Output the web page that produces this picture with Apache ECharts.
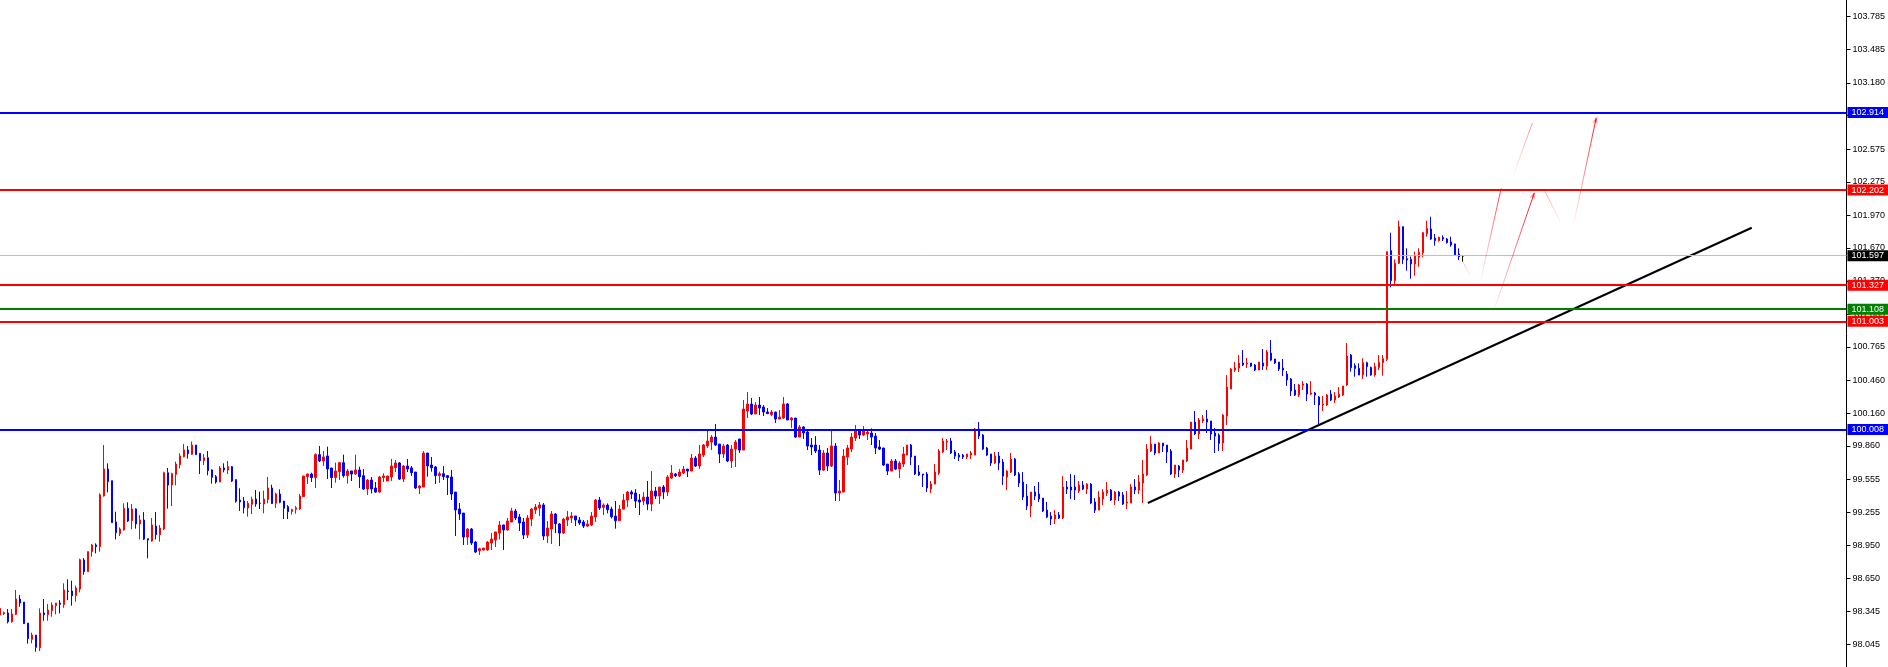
<!DOCTYPE html>
<html>
<head>
<meta charset="utf-8">
<script src="https://cdn.jsdelivr.net/npm/echarts@6/dist/echarts.min.js"></script>
<style>
html,body{margin:0;padding:0;background:#fff;}
#chart{width:1888px;height:667px;}
</style>
</head>
<body>
<div id="chart"></div>
<script>
// ---------------- data ----------------
const openPrices = [
98.313,98.325,98.332,98.252,98.319,98.460,98.432,98.240,98.091,98.130,
98.014,98.332,98.316,98.353,98.399,98.423,98.408,98.533,98.533,98.490,
98.551,98.816,98.710,98.893,98.954,98.938,99.402,99.649,99.542,99.164,
99.057,99.091,99.289,99.176,99.283,99.146,99.182,99.011,98.990,99.127,
99.048,99.100,99.615,99.502,99.600,99.688,99.762,99.823,99.783,99.868,
99.792,99.725,99.752,99.640,99.579,99.530,99.658,99.640,99.670,99.551,
99.365,99.356,99.292,99.326,99.374,99.335,99.329,99.371,99.475,99.335,
99.420,99.356,99.304,99.261,99.280,99.283,99.396,99.579,99.603,99.570,
99.780,99.722,99.768,99.658,99.570,99.624,99.707,99.588,99.631,99.603,
99.640,99.588,99.466,99.548,99.475,99.438,99.570,99.539,99.576,99.661,
99.704,99.557,99.676,99.658,99.621,99.475,99.484,99.795,99.685,99.667,
99.588,99.606,99.588,99.576,99.438,99.283,99.246,99.027,99.100,98.981,
98.902,98.908,98.908,98.972,98.999,99.063,99.137,99.091,99.164,99.265,
99.210,99.164,99.045,99.191,99.274,99.292,99.320,99.036,99.100,99.237,
99.146,99.063,99.182,99.201,99.219,99.182,99.164,99.127,99.137,99.210,
99.365,99.298,99.319,99.282,99.218,99.176,99.282,99.365,99.438,99.429,
99.365,99.356,99.392,99.328,99.447,99.401,99.484,99.438,99.566,99.603,
99.584,99.612,99.648,99.630,99.749,99.676,99.776,99.859,99.895,99.941,
99.877,99.786,99.868,99.722,99.831,99.923,99.822,100.179,100.243,100.152,
100.234,100.215,100.170,100.148,100.170,100.106,100.115,100.243,100.097,100.115,
99.941,100.033,99.987,99.868,99.868,99.822,99.639,99.795,99.676,99.859,
99.429,99.438,99.758,99.831,99.932,100.005,99.959,99.969,99.978,99.950,
99.850,99.841,99.694,99.630,99.722,99.648,99.694,99.776,99.868,99.767,
99.621,99.603,99.603,99.465,99.511,99.612,99.804,99.895,99.905,99.804,
99.776,99.776,99.758,99.776,99.776,100.014,99.959,99.841,99.786,99.703,
99.767,99.712,99.575,99.621,99.740,99.603,99.530,99.401,99.310,99.438,
99.420,99.383,99.273,99.218,99.191,99.228,99.200,99.484,99.484,99.484,
99.447,99.502,99.465,99.511,99.347,99.273,99.374,99.429,99.456,99.365,
99.438,99.411,99.337,99.337,99.484,99.456,99.520,99.594,99.813,99.877,
99.795,99.886,99.868,99.813,99.603,99.676,99.639,99.722,99.831,100.078,
99.969,100.088,100.106,100.088,99.978,99.959,99.886,100.133,100.380,100.554,
100.572,100.618,100.609,100.618,100.600,100.554,100.618,100.590,100.709,100.655,
100.627,100.572,100.517,100.472,100.371,100.325,100.414,100.426,100.334,100.344,
100.307,100.234,100.234,100.334,100.280,100.307,100.325,100.417,100.691,100.594,
100.569,100.508,100.621,100.578,100.508,100.578,100.621,100.652,101.646,101.371,
101.530,101.865,101.572,101.566,101.524,101.585,101.627,101.801,101.844,101.761,
101.737,101.767,101.752,101.725,101.707,101.615,101.597
];
const closePrices = [
98.374,98.335,98.252,98.322,98.460,98.423,98.234,98.097,98.130,98.018,
98.332,98.316,98.359,98.405,98.423,98.411,98.542,98.527,98.490,98.560,
98.819,98.710,98.893,98.954,98.938,99.414,99.649,99.533,99.158,99.066,
99.100,99.289,99.173,99.283,99.146,99.182,99.008,98.999,99.137,99.048,
99.109,99.615,99.502,99.606,99.694,99.768,99.823,99.789,99.868,99.780,
99.725,99.752,99.634,99.573,99.530,99.658,99.640,99.670,99.539,99.353,
99.347,99.295,99.335,99.371,99.329,99.335,99.374,99.475,99.332,99.420,
99.344,99.289,99.258,99.277,99.295,99.402,99.585,99.603,99.570,99.780,
99.722,99.759,99.649,99.570,99.631,99.707,99.588,99.631,99.603,99.640,
99.579,99.466,99.548,99.466,99.438,99.576,99.585,99.585,99.676,99.704,
99.557,99.676,99.649,99.615,99.475,99.493,99.795,99.676,99.661,99.588,
99.606,99.579,99.570,99.420,99.274,99.237,99.027,99.100,98.972,98.890,
98.920,98.926,98.981,99.008,99.073,99.137,99.091,99.173,99.265,99.201,
99.155,99.045,99.201,99.283,99.301,99.320,99.036,99.109,99.237,99.149,
99.063,99.191,99.210,99.219,99.182,99.155,99.127,99.146,99.219,99.365,
99.292,99.319,99.276,99.212,99.176,99.282,99.365,99.438,99.420,99.356,
99.347,99.392,99.328,99.447,99.401,99.484,99.438,99.575,99.612,99.587,
99.621,99.648,99.630,99.749,99.676,99.786,99.868,99.905,99.941,99.868,
99.786,99.859,99.722,99.831,99.895,99.822,100.197,100.243,100.152,100.234,
100.206,100.170,100.155,100.170,100.106,100.124,100.243,100.097,100.115,99.941,
100.033,99.978,99.859,99.850,99.813,99.639,99.795,99.676,99.859,99.429,
99.447,99.767,99.841,99.941,100.005,99.959,100.005,99.987,99.941,99.841,
99.831,99.685,99.630,99.722,99.648,99.703,99.786,99.868,99.758,99.603,
99.594,99.594,99.475,99.511,99.621,99.813,99.905,99.905,99.795,99.767,
99.758,99.758,99.786,99.795,100.014,99.950,99.831,99.776,99.703,99.767,
99.703,99.584,99.630,99.740,99.594,99.520,99.392,99.310,99.438,99.401,
99.374,99.264,99.209,99.191,99.228,99.200,99.484,99.465,99.456,99.456,
99.502,99.465,99.511,99.337,99.273,99.392,99.438,99.456,99.365,99.438,
99.401,99.328,99.347,99.484,99.456,99.530,99.603,99.831,99.877,99.795,
99.886,99.859,99.804,99.603,99.685,99.639,99.731,99.841,100.078,99.969,
100.097,100.106,100.078,99.969,99.950,99.883,100.142,100.398,100.563,100.572,
100.618,100.600,100.618,100.590,100.554,100.627,100.590,100.719,100.645,100.618,
100.563,100.554,100.463,100.362,100.325,100.417,100.426,100.334,100.344,100.325,
100.234,100.243,100.325,100.280,100.316,100.334,100.408,100.682,100.575,100.569,
100.508,100.621,100.585,100.508,100.585,100.624,100.658,101.636,101.371,101.530,
101.865,101.566,101.560,101.524,101.597,101.630,101.810,101.850,101.752,101.737,
101.767,101.752,101.719,101.697,101.609,101.591,101.597
];
const lowPrices = [
98.307,98.313,98.237,98.243,98.313,98.389,98.234,98.051,98.054,97.978,
97.984,98.261,98.261,98.298,98.319,98.328,98.380,98.450,98.399,98.435,
98.521,98.682,98.710,98.847,98.877,98.893,99.396,99.435,99.158,99.005,
99.036,99.085,99.164,99.097,99.103,99.005,98.999,98.832,98.984,99.005,
98.984,99.091,99.286,99.310,99.499,99.655,99.755,99.743,99.777,99.780,
99.603,99.685,99.591,99.515,99.515,99.530,99.618,99.603,99.530,99.341,
99.265,99.243,99.213,99.237,99.304,99.283,99.243,99.335,99.329,99.292,
99.335,99.191,99.191,99.231,99.240,99.274,99.396,99.512,99.530,99.475,
99.713,99.676,99.557,99.475,99.524,99.548,99.570,99.515,99.539,99.594,
99.475,99.457,99.411,99.426,99.432,99.432,99.530,99.539,99.539,99.621,
99.548,99.530,99.621,99.585,99.466,99.420,99.484,99.579,99.624,99.512,
99.521,99.548,99.411,99.365,99.036,99.182,98.954,98.954,98.954,98.880,
98.862,98.902,98.902,98.908,98.935,99.005,98.908,99.085,99.164,99.182,
99.082,99.008,99.018,99.127,99.237,99.219,98.999,98.972,98.963,99.063,
98.944,99.054,99.127,99.155,99.127,99.137,99.109,99.118,99.127,99.164,
99.274,99.228,99.243,99.197,99.103,99.176,99.279,99.301,99.374,99.292,
99.228,99.319,99.273,99.264,99.374,99.328,99.374,99.401,99.557,99.575,
99.575,99.603,99.575,99.630,99.667,99.648,99.758,99.841,99.822,99.859,
99.703,99.749,99.712,99.658,99.667,99.795,99.822,100.115,100.142,100.152,
100.142,100.133,100.152,100.133,100.069,100.106,100.106,100.097,100.023,99.932,
99.941,99.923,99.822,99.776,99.795,99.594,99.630,99.630,99.667,99.356,
99.356,99.438,99.685,99.804,99.905,99.923,99.950,99.914,99.868,99.786,
99.822,99.676,99.594,99.630,99.639,99.566,99.667,99.776,99.685,99.594,
99.584,99.484,99.438,99.429,99.511,99.594,99.795,99.822,99.786,99.740,
99.722,99.740,99.740,99.740,99.776,99.923,99.822,99.767,99.676,99.694,
99.639,99.502,99.456,99.612,99.584,99.484,99.365,99.273,99.209,99.365,
99.347,99.255,99.200,99.136,99.145,99.191,99.191,99.420,99.374,99.365,
99.429,99.456,99.420,99.328,99.246,99.273,99.319,99.401,99.356,99.319,
99.356,99.319,99.282,99.337,99.420,99.420,99.337,99.584,99.804,99.776,
99.795,99.804,99.703,99.594,99.566,99.575,99.612,99.712,99.831,99.959,
99.923,100.069,99.978,99.914,99.795,99.813,99.813,100.051,100.380,100.536,
100.536,100.590,100.572,100.581,100.545,100.554,100.554,100.554,100.636,100.609,
100.545,100.499,100.408,100.316,100.316,100.307,100.371,100.270,100.325,100.234,
100.060,100.179,100.225,100.270,100.252,100.298,100.316,100.408,100.539,100.493,
100.508,100.472,100.493,100.502,100.493,100.554,100.502,100.636,101.310,101.322,
101.524,101.524,101.463,101.389,101.417,101.499,101.585,101.774,101.743,101.691,
101.728,101.734,101.710,101.682,101.606,101.560,101.545
];
const highPrices = [
98.389,98.344,98.368,98.368,98.542,98.496,98.432,98.240,98.152,98.130,
98.374,98.460,98.414,98.429,98.423,98.450,98.603,98.639,98.627,98.582,
98.829,98.835,98.893,98.963,98.969,99.426,99.868,99.701,99.542,99.258,
99.115,99.335,99.344,99.329,99.289,99.228,99.255,99.011,99.201,99.255,
99.137,99.624,99.658,99.615,99.716,99.792,99.877,99.859,99.900,99.868,
99.792,99.786,99.813,99.646,99.594,99.676,99.701,99.722,99.676,99.557,
99.472,99.393,99.356,99.396,99.457,99.441,99.451,99.576,99.505,99.432,
99.463,99.356,99.319,99.286,99.310,99.420,99.585,99.609,99.615,99.792,
99.859,99.813,99.853,99.658,99.707,99.707,99.780,99.649,99.631,99.780,
99.670,99.649,99.557,99.576,99.530,99.585,99.609,99.585,99.740,99.731,
99.713,99.685,99.740,99.676,99.621,99.502,99.813,99.795,99.759,99.676,
99.624,99.676,99.594,99.640,99.438,99.338,99.246,99.109,99.109,98.990,
98.929,98.926,98.990,99.063,99.073,99.173,99.137,99.201,99.292,99.283,
99.237,99.201,99.228,99.292,99.329,99.347,99.338,99.173,99.265,99.246,
99.155,99.201,99.265,99.255,99.219,99.210,99.182,99.182,99.255,99.374,
99.393,99.334,99.334,99.304,99.356,99.319,99.420,99.447,99.456,99.465,
99.420,99.438,99.539,99.630,99.484,99.484,99.502,99.594,99.685,99.612,
99.648,99.676,99.648,99.786,99.767,99.868,99.877,100.005,99.959,100.060,
99.877,99.877,99.877,99.868,99.914,99.923,100.280,100.353,100.298,100.261,
100.307,100.234,100.206,100.188,100.170,100.188,100.307,100.252,100.124,100.115,
100.051,100.042,100.005,99.932,99.950,99.868,99.822,99.841,100.005,99.886,
99.548,99.831,99.868,99.978,100.051,100.005,100.042,100.005,100.020,99.978,
99.914,99.841,99.694,99.740,99.740,99.722,99.850,99.868,99.877,99.767,
99.685,99.603,99.621,99.539,99.694,99.831,99.932,99.923,99.932,99.822,
99.795,99.786,99.786,99.813,100.023,100.078,99.969,99.850,99.786,99.804,
99.804,99.740,99.639,99.795,99.749,99.621,99.621,99.511,99.438,99.493,
99.530,99.383,99.347,99.255,99.273,99.255,99.584,99.539,99.603,99.594,
99.539,99.539,99.520,99.520,99.383,99.447,99.465,99.530,99.465,99.447,
99.447,99.438,99.447,99.511,99.557,99.594,99.731,99.877,99.950,99.877,
99.895,99.886,99.868,99.831,99.685,99.685,99.731,99.914,100.078,100.179,
100.115,100.142,100.188,100.088,100.023,99.975,100.151,100.508,100.572,100.627,
100.691,100.737,100.664,100.618,100.609,100.627,100.746,100.737,100.828,100.655,
100.627,100.655,100.545,100.481,100.426,100.426,100.453,100.435,100.453,100.353,
100.316,100.316,100.334,100.371,100.353,100.398,100.408,100.801,100.700,100.615,
100.615,100.661,100.630,100.585,100.621,100.691,100.691,101.636,101.810,101.566,
101.920,101.865,101.667,101.591,101.636,101.667,101.816,101.920,101.956,101.798,
101.774,101.786,101.761,101.774,101.710,101.667,101.606
];

// price axis tick labels (right scale)
const yTickValues = [98.045,98.345,98.650,98.950,99.255,99.555,99.860,100.160,100.460,100.765,
  101.065,101.370,101.670,101.970,102.275,102.575,102.880,103.180,103.485,103.785];
const Y_MIN = 97.838;
const Y_MAX = 103.938;

// horizontal levels
const levelValues = [102.914, 102.202, 101.597, 101.327, 101.108, 101.003, 100.008];
const levelLineColors = ['#0000ff', '#ff0000', '#c0c0c0', '#ff0000', '#008000', '#ff0000', '#0000ff'];
const levelLabelColors = ['#0000ff', '#ff0000', '#000000', '#ff0000', '#008000', '#ff0000', '#0000ff'];
const levelWidths = [2, 2, 1, 2, 2, 2, 2];

// trend line (bar index, price)
const trendLine = [[287.2, 99.338], [438.3, 101.855]];

// projected path strokes (bar index, price)
const projStart = [[365.9, 101.551], [370.5, 101.377], [378.5, 102.322], [373.4, 101.057], [386.6, 102.185], [393.7, 101.880]];
const projEnd   = [[367.9, 101.417], [375.6, 102.216], [383.4, 102.811], [383.9, 102.175], [390.6, 101.895], [399.4, 102.862]];
const projArrow = [false, false, false, true, false, true];
const projAlpha = [0.35, 0.8, 0.45, 0.95, 0.4, 0.95];

const SLOTS = 463; // bar slots across the chart, including empty future space
const categories = [];
for (let i = 0; i < SLOTS; i++) categories.push(String(i));

const FONT = 'Liberation Sans, Arial, sans-serif';

// ---------------- build ----------------
const candleData = openPrices.map((o, i) => {
  const item = { value: [o, closePrices[i], lowPrices[i], highPrices[i]] };
  if (o === closePrices[i]) {
    item.itemStyle = { color: '#000', color0: '#000', borderColor: '#000', borderColor0: '#000' };
  }
  return item;
});

const levelMarks = levelValues.map((v, i) => ({
  yAxis: v,
  lineStyle: { color: levelLineColors[i], width: levelWidths[i], type: 'solid' },
  label: {
    show: true, position: 'end', distance: 1,
    formatter: v.toFixed(3),
    color: '#fff', backgroundColor: levelLabelColors[i],
    fontSize: 9, lineHeight: 9, fontFamily: FONT,
    padding: [1, 4, 1, 4]
  }
}));

const projMarks = projStart.map((s, i) => ([
  { coord: s, symbol: 'none' },
  {
    coord: projEnd[i],
    symbol: projArrow[i] ? 'arrow' : 'none',
    symbolSize: [5, 7],
    lineStyle: {
      width: 1, type: 'solid',
      color: {
        type: 'linear', x: 0, y: 1, x2: 0, y2: 0,
        colorStops: [
          { offset: 0, color: 'rgba(255,0,0,0)' },
          { offset: 1, color: 'rgba(255,0,0,' + projAlpha[i] + ')' }
        ]
      }
    },
    itemStyle: { color: 'rgba(255,0,0,' + projAlpha[i] + ')' }
  }
]));

const chart = echarts.init(document.getElementById('chart'), null, { renderer: 'canvas' });
chart.setOption({
  animation: false,
  backgroundColor: '#ffffff',
  grid: { left: 0, right: 41, top: 0, bottom: 0, containLabel: false },
  xAxis: [
    { type: 'category', data: categories, boundaryGap: false, show: false },
    { type: 'value', min: 0, max: SLOTS - 1, show: false }
  ],
  yAxis: {
    type: 'value', position: 'right', min: Y_MIN, max: Y_MAX,
    axisLine: { show: true, onZero: false, lineStyle: { color: '#000', width: 1 } },
    axisTick: { show: true, inside: false, length: 4, customValues: yTickValues, lineStyle: { color: '#000', width: 1 } },
    axisLabel: {
      show: true, customValues: yTickValues, margin: 6,
      formatter: (v) => Number(v).toFixed(3),
      color: '#000', fontSize: 9, fontFamily: FONT
    },
    splitLine: { show: false }
  },
  series: [
    {
      name: 'levels', type: 'line', xAxisIndex: 1, yAxisIndex: 0, z: 1,
      data: [], symbol: 'none', silent: true,
      markLine: { silent: true, symbol: ['none', 'none'], animation: false, data: levelMarks }
    },
    {
      name: 'price', type: 'candlestick', xAxisIndex: 0, yAxisIndex: 0, z: 3,
      data: candleData, barWidth: 2, clip: true,
      itemStyle: {
        color: '#ff0000', color0: '#0000ff',
        borderColor: '#ff0000', borderColor0: '#0000ff', borderWidth: 1
      }
    },
    {
      name: 'trend', type: 'line', xAxisIndex: 1, yAxisIndex: 0, z: 4,
      data: trendLine, symbol: 'none', silent: true,
      lineStyle: { color: '#000', width: 2 },
      markLine: { silent: true, animation: false, symbol: ['none', 'none'], label: { show: false }, data: projMarks }
    }
  ]
});
</script>
</body>
</html>
